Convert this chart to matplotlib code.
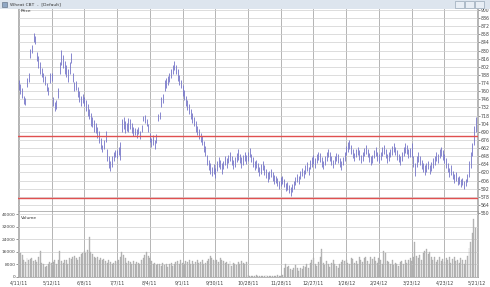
import numpy as np
import matplotlib
matplotlib.use("Agg")
import matplotlib.pyplot as plt
from matplotlib.patches import Rectangle

# ---------------- data ----------------
date_labels = ["4/11/11", "5/12/11", "6/8/11", "7/7/11", "8/4/11", "9/1/11", "9/30/11",
               "10/28/11", "11/28/11", "12/27/11", "1/26/12", "2/24/12", "3/23/12",
               "4/23/12", "5/21/12"]
bars_per_label = 20

price_low = [
    762, 755, 748, 738, 736, 768, 776, 818, 826, 845, 842, 812, 800, 790, 784, 775, 770, 760, 753, 774,
    778, 735, 726, 730, 748, 790, 805, 800, 790, 784, 776, 790, 809, 775, 760, 762, 750, 742, 735, 740,
    735, 725, 718, 712, 700, 698, 690, 688, 680, 670, 660, 655, 660, 672, 640, 628, 622, 630, 640, 647,
    645, 650, 642, 690, 695, 688, 692, 690, 695, 688, 682, 684, 680, 686, 678, 690, 708, 705, 700, 690,
    672, 664, 668, 660, 670, 708, 712, 733, 740, 760, 765, 770, 775, 782, 790, 796, 790, 778, 770, 765,
    752, 745, 735, 728, 720, 712, 705, 700, 690, 684, 678, 672, 668, 656, 648, 632, 624, 618, 614, 618,
    610, 622, 630, 626, 618, 625, 632, 628, 636, 640, 632, 626, 630, 638, 642, 636, 628, 632, 640, 634,
    640, 646, 638, 630, 624, 628, 620, 614, 618, 624, 616, 610, 604, 608, 612, 606, 600, 602, 596, 592,
    596, 600, 594, 588, 590, 584, 580, 586, 592, 598, 604, 600, 608, 614, 610, 618, 622, 616, 626, 630,
    634, 628, 636, 642, 638, 630, 626, 632, 640, 646, 640, 632, 628, 634, 640, 636, 630, 624, 632, 640,
    650, 656, 660, 652, 644, 640, 646, 650, 642, 636, 640, 648, 652, 646, 638, 632, 636, 644, 648, 640,
    636, 642, 648, 652, 644, 636, 640, 646, 650, 656, 650, 642, 638, 632, 640, 648, 654, 652, 644, 646,
    646, 630, 614, 630, 638, 632, 626, 620, 616, 620, 626, 618, 622, 628, 632, 640, 636, 644, 648, 642,
    636, 628, 620, 612, 616, 608, 602, 606, 598, 600, 594, 598, 592, 596, 604, 612, 628, 648, 668, 690,
]

price_high = [
    779, 772, 765, 752, 748, 782, 791, 832, 840, 860, 856, 827, 820, 810, 800, 792, 786, 774, 768, 791,
    792, 750, 742, 745, 765, 810, 831, 822, 812, 806, 798, 810, 826, 792, 776, 778, 767, 760, 752, 756,
    750, 745, 738, 730, 722, 715, 710, 705, 698, 692, 680, 668, 675, 692, 660, 648, 640, 648, 656, 658,
    658, 664, 672, 712, 715, 708, 706, 714, 712, 706, 698, 696, 694, 698, 692, 702, 718, 719, 712, 704,
    688, 680, 684, 676, 686, 720, 724, 750, 755, 779, 782, 786, 792, 798, 805, 812, 806, 798, 788, 780,
    770, 762, 752, 745, 738, 730, 722, 716, 708, 700, 694, 688, 682, 674, 666, 650, 642, 636, 630, 634,
    628, 640, 646, 642, 636, 640, 648, 644, 650, 656, 648, 642, 646, 654, 660, 652, 646, 650, 656, 650,
    656, 662, 652, 646, 640, 642, 636, 630, 634, 640, 632, 626, 620, 622, 626, 620, 616, 614, 610, 606,
    612, 614, 608, 602, 604, 598, 594, 600, 606, 612, 618, 614, 622, 628, 624, 632, 638, 630, 642, 646,
    650, 644, 652, 656, 654, 646, 640, 648, 656, 660, 656, 648, 642, 648, 654, 652, 644, 640, 646, 656,
    666, 672, 676, 668, 660, 654, 660, 664, 658, 650, 656, 662, 668, 660, 654, 648, 650, 658, 664, 656,
    652, 656, 664, 668, 660, 652, 656, 660, 666, 670, 664, 658, 652, 648, 656, 664, 670, 668, 660, 662,
    670, 648, 636, 648, 656, 648, 642, 636, 632, 636, 640, 632, 638, 644, 648, 656, 652, 660, 664, 658,
    652, 644, 636, 628, 632, 622, 618, 620, 612, 614, 608, 610, 606, 608, 618, 640, 655, 670, 700, 716,
]

volume = [
    16000, 15500, 14000, 10500, 9500, 12000, 11000, 11500, 12000, 10000, 11000, 9500, 12500, 16500, 9000, 8000, 6500, 7000, 8500, 9500,
    9000, 9500, 10500, 8000, 11000, 16500, 10000, 9000, 11000, 10500, 8500, 12000, 11500, 12500, 13500, 12000, 11000, 13000, 14500, 15500,
    16500, 15000, 17000, 25500, 16000, 14500, 13000, 12000, 12500, 11000, 12000, 10500, 11500, 10000, 9000, 10500, 9500, 8500, 9000, 10000,
    9500, 11000, 12500, 16000, 14000, 12000, 9000, 10000, 9500, 8500, 10000, 8000, 9500, 9000, 8500, 10500, 12000, 14000, 16000, 13500,
    12000, 10000, 8500, 9000, 7500, 8000, 8500, 7000, 9000, 7500, 8000, 6500, 8500, 9000, 7000, 8000, 9500, 10000, 8500, 10500,
    9000, 8000, 10000, 9500, 11000, 8500, 10000, 8500, 9500, 11000, 9000, 9500, 10500, 8500, 9000, 10000, 11500, 13500, 12000, 11000,
    10000, 11000, 9500, 12000, 10500, 10000, 9000, 9500, 8000, 10000, 7000, 9000, 8500, 7500, 9500, 8000, 10000, 9000, 8500, 9500,
    1200, 800, 600, 900, 700, 1000, 600, 800, 500, 900, 700, 1100, 600, 800, 700, 900, 600, 800, 1000, 700,
    900, 1200, 5500, 8000, 6500, 7000, 5000, 4500, 6000, 7500, 5500, 4000, 6000, 5000, 7000, 6500, 8500, 6000, 9000, 10500,
    12000, 8500, 7000, 9500, 13000, 18000, 9000, 7500, 10000, 8000, 6500, 9000, 10500, 8500, 7000, 6000, 8000, 9500, 11000, 10000,
    10500, 9000, 8000, 12000, 11500, 9000, 10000, 8500, 12500, 11000, 9500, 12000, 13000, 10000, 8500, 12500, 11500, 13000, 10000, 9000,
    12000, 11000, 8500, 16500, 15500, 10000, 9500, 8000, 11000, 7500, 9000, 8500, 7000, 9500, 10000, 8000, 11000, 9000, 10500, 12000,
    10000, 12500, 22500, 13500, 12000, 14000, 10500, 15000, 16500, 17500, 14500, 16000, 12500, 11000, 13000, 9500, 11000, 12500, 10000, 11500,
    9500, 12000, 10500, 13000, 9000, 11500, 12500, 10000, 11000, 9000, 12000, 10500, 8000, 11000, 13500, 18500, 22000, 28000, 37000, 31000,
]

price_ticks = [900, 886, 872, 858, 844, 830, 816, 802, 788, 774, 760, 746, 732, 718, 704,
               690, 676, 662, 648, 634, 620, 606, 592, 578, 564, 550]
volume_ticks = [0, 8000, 16000, 24000, 32000, 40000]
support_resistance = [682, 576]

assert len(price_low) == len(price_high) == len(volume)

# ---------------- figure ----------------
W, H = 490, 287
fig = plt.figure(figsize=(W / 100, H / 100), dpi=100, facecolor="white")

def fr(x0, y0, x1, y1):
    return [x0 / W, 1 - y1 / H, (x1 - x0) / W, (y1 - y0) / H]

# title bar
fig.patches.append(Rectangle((0, 1 - 9 / H), 1, 9 / H, transform=fig.transFigure,
                             facecolor="#dde5ee", edgecolor="none", zorder=0))
fig.patches.append(Rectangle((2 / W, 1 - 7 / H), 5 / W, 5 / H, transform=fig.transFigure,
                             facecolor="#8fa7c4", edgecolor="#55657a", lw=0.4, zorder=1))
fig.text(10 / W, 1 - 4.5 / H, "Wheat CBT  -  [Default]", fontsize=3.2, color="#333333",
         va="center", ha="left")
for bx in (455, 465, 475):
    fig.patches.append(Rectangle((bx / W, 1 - 7.5 / H), 9 / W, 6 / H, transform=fig.transFigure,
                                 facecolor="#e8eef5", edgecolor="#8899aa", lw=0.4, zorder=1))

n = len(price_low)
x = np.arange(n)
x_left, x_right = -0.5, bars_per_label * (len(date_labels) - 1) + 0.5
tick_pos = np.arange(len(date_labels)) * bars_per_label

LEFT, RIGHT = 18, 478

# price panel
ax = fig.add_axes(fr(LEFT, 8, RIGHT, 214))
ax.set_facecolor("white")
ax.vlines(x, price_low, price_high, color="#7474c8", lw=0.6, zorder=3)
for lvl in support_resistance:
    ax.axhline(lvl, color="#e05050", lw=1.0, zorder=4)
ax.set_xlim(x_left, x_right)
px_per_unit = 203 / 350
ax.set_ylim(900 - (214 - 10) / px_per_unit, 900 + 2 / px_per_unit)
ax.set_yticks(price_ticks)
ax.set_yticklabels([str(t) for t in price_ticks])
ax.yaxis.tick_right()
ax.tick_params(axis="y", labelsize=3.3, length=1.2, width=0.4, pad=0.6, colors="#444444")
ax.set_xticks(tick_pos)
ax.tick_params(axis="x", length=0, labelbottom=False)
ax.grid(axis="y", color="#cfcfcf", lw=0.5)
ax.grid(axis="x", color="#a8a8a8", lw=0.6)
ax.set_axisbelow(True)
for s in ax.spines.values():
    s.set_color("#999999")
    s.set_linewidth(0.5)
ax.text(0.006, 0.993, "Price", transform=ax.transAxes, fontsize=3.2, va="top", ha="left",
        color="#333333")

# volume panel
av = fig.add_axes(fr(LEFT, 211, RIGHT, 277))
av.set_facecolor("white")
av.bar(x, volume, width=0.6, color="#bdbdbd", edgecolor="#9a9a9a", lw=0.2, zorder=3)
av.set_xlim(x_left, x_right)
av.set_ylim(0, 40000 * 66 / 63)
av.set_yticks(volume_ticks)
av.set_yticklabels([str(v) for v in volume_ticks])
av.tick_params(axis="y", labelsize=3.2, length=1.2, width=0.4, pad=0.6, colors="#444444")
av.set_xticks(tick_pos)
av.set_xticklabels(date_labels)
av.tick_params(axis="x", labelsize=3.4, length=0, pad=2.5, colors="#444444")
av.grid(axis="y", color="#cfcfcf", lw=0.5)
av.grid(axis="x", color="#a8a8a8", lw=0.6)
av.set_axisbelow(True)
for s in av.spines.values():
    s.set_color("#999999")
    s.set_linewidth(0.5)
av.text(0.006, 0.93, "Volume", transform=av.transAxes, fontsize=3.2, va="top", ha="left",
        color="#333333")

fig.savefig("out.png", dpi=100, facecolor=fig.get_facecolor())
